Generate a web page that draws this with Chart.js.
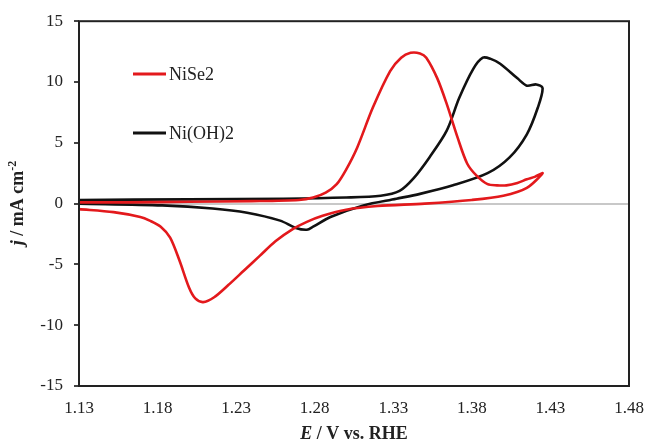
<!DOCTYPE html>
<html lang="en">
<head>
    <meta charset="UTF-8">
    <title>CV NiSe2 vs Ni(OH)2</title>
    <script src="https://cdn.jsdelivr.net/npm/chart.js"></script>
    <style>
        html, body { margin: 0; padding: 0; background: #fff; }
        #wrap { width: 646px; height: 443px; }
    </style>
</head>
<body>
    <div id="wrap"><canvas id="cvChart"></canvas></div>
    <script>
        // values (E in V vs RHE, j in mA cm-2)
        const seriesNames = ['NiSe2', 'Ni(OH)2'];
        const niSe2E = [1.13, 1.16, 1.20, 1.24, 1.27, 1.279, 1.287, 1.294, 1.30, 1.307, 1.317, 1.328, 1.335, 1.341, 1.347,
            1.351, 1.358, 1.364, 1.371, 1.377, 1.383, 1.39, 1.396, 1.402, 1.409, 1.415, 1.42, 1.425,
            1.415, 1.40, 1.38, 1.35, 1.32, 1.30, 1.285, 1.275, 1.266, 1.255, 1.245, 1.235, 1.225, 1.216, 1.209,
            1.204, 1.20, 1.194, 1.188, 1.182, 1.175, 1.169, 1.152, 1.13];
        const niSe2J = [0.1, 0.1, 0.15, 0.2, 0.3, 0.5, 0.9, 1.6, 2.8, 4.6, 7.9, 10.9, 12.0, 12.4, 12.35,
            12.0, 10.3, 8.2, 5.4, 3.3, 2.3, 1.6, 1.5, 1.5, 1.7, 2.0, 2.2, 2.5,
            1.3, 0.65, 0.3, 0.0, -0.2, -0.5, -1.0, -1.5, -2.1, -3.1, -4.3, -5.5, -6.7, -7.7, -8.1,
            -7.8, -6.9, -4.7, -2.8, -1.9, -1.4, -1.1, -0.7, -0.45];
        const niOH2E = [1.13, 1.20, 1.26, 1.30, 1.322, 1.334, 1.343, 1.353, 1.364, 1.372, 1.381, 1.387, 1.392, 1.398,
            1.409, 1.415, 1.421, 1.425,
            1.422, 1.415, 1.404, 1.39, 1.368, 1.347, 1.332, 1.311, 1.29, 1.279, 1.275, 1.268, 1.258, 1.237,
            1.215, 1.183, 1.13];
        const niOH2J = [0.3, 0.35, 0.4, 0.5, 0.65, 1.05, 2.1, 3.8, 6.0, 8.7, 11.1, 12.0, 11.9, 11.5,
            10.3, 9.7, 9.8, 9.5,
            7.9, 5.7, 3.8, 2.5, 1.5, 0.8, 0.4, -0.15, -1.1, -1.9, -2.15, -2.0, -1.4, -0.75,
            -0.4, -0.15, 0.0];
        const xTicks = [1.13, 1.18, 1.23, 1.28, 1.33, 1.38, 1.43, 1.48];
        const yTicks = [-15, -10, -5, 0, 5, 10, 15];

        const toPoints = (xs, ys) => xs.map((x, i) => ({ x: x, y: ys[i] }));
        const serif = '"Liberation Serif", "Times New Roman", serif';

        // legend drawn inside the plot, titles with italic symbols, box frame
        const extras = {
            id: 'extras',
            afterDraw(chart) {
                const c = chart.ctx;
                const a = chart.chartArea;
                c.save();
                c.strokeStyle = '#222';
                c.lineWidth = 2;
                c.strokeRect(a.left, a.top, a.right - a.left, a.bottom - a.top);

                c.font = '18px ' + serif;
                c.textBaseline = 'alphabetic';
                chart.data.datasets.forEach((ds, i) => {
                    const y = 74 + i * 59;
                    c.strokeStyle = ds.borderColor;
                    c.lineWidth = 3;
                    c.beginPath();
                    c.moveTo(133, y);
                    c.lineTo(166, y);
                    c.stroke();
                    c.fillStyle = '#222';
                    c.fillText(ds.label, 169, y + 6);
                });

                const runs = (parts) => {
                    let w = 0;
                    parts.forEach(p => { c.font = p[1]; w += c.measureText(p[0]).width; });
                    return w;
                };
                const drawRuns = (parts, x0, y0) => {
                    let x = x0;
                    parts.forEach(p => {
                        c.font = p[1];
                        c.fillText(p[0], x, y0 + (p[2] || 0));
                        x += c.measureText(p[0]).width;
                    });
                };
                c.fillStyle = '#222';
                const xt = [['E', 'italic bold 18px ' + serif], [' / V vs. RHE', 'bold 18px ' + serif]];
                drawRuns(xt, 354 - runs(xt) / 2, 439);

                const yt = [['j', 'italic bold 18px ' + serif], [' / mA cm', 'bold 18px ' + serif], ['-2', 'bold 12px ' + serif, -7]];
                c.translate(23, 203);
                c.rotate(-Math.PI / 2);
                drawRuns(yt, -runs(yt) / 2, 0);
                c.restore();
            }
        };

        new Chart(document.getElementById('cvChart'), {
            type: 'line',
            data: {
                datasets: [{
                    label: seriesNames[0],
                    data: toPoints(niSe2E, niSe2J),
                    borderColor: '#e3191c',
                    borderWidth: 2.6,
                    pointRadius: 0,
                    tension: 0.3
                }, {
                    label: seriesNames[1],
                    data: toPoints(niOH2E, niOH2J),
                    borderColor: '#111111',
                    borderWidth: 2.6,
                    pointRadius: 0,
                    tension: 0.3
                }]
            },
            options: {
                responsive: true,
                maintainAspectRatio: false,
                animation: false,
                layout: { padding: { top: 20, right: 17, left: 0, bottom: 0 } },
                plugins: { legend: { display: false }, tooltip: { enabled: false } },
                scales: {
                    x: {
                        type: 'linear',
                        min: 1.13,
                        max: 1.48,
                        afterBuildTicks: s => { s.ticks = xTicks.map(v => ({ value: v })); },
                        afterFit: s => { s.height = 57; s.paddingRight = 0; },
                        grid: { display: false, drawTicks: false },
                        border: { display: false },
                        ticks: {
                            padding: 12,
                            color: '#222',
                            font: { family: serif, size: 17 },
                            callback: v => v.toFixed(2)
                        }
                    },
                    y: {
                        min: -15,
                        max: 15,
                        afterBuildTicks: s => { s.ticks = yTicks.map(v => ({ value: v })); },
                        afterFit: s => { s.width = 79; },
                        grid: {
                            color: c => (c.tick && c.tick.value === 0) ? '#c8c8c8' : 'rgba(0,0,0,0)',
                            lineWidth: 2,
                            tickColor: '#444',
                            tickLength: 5
                        },
                        border: { display: false },
                        ticks: {
                            padding: 11,
                            color: '#222',
                            font: { family: serif, size: 17 }
                        }
                    }
                }
            },
            plugins: [extras]
        });
    </script>
</body>
</html>
